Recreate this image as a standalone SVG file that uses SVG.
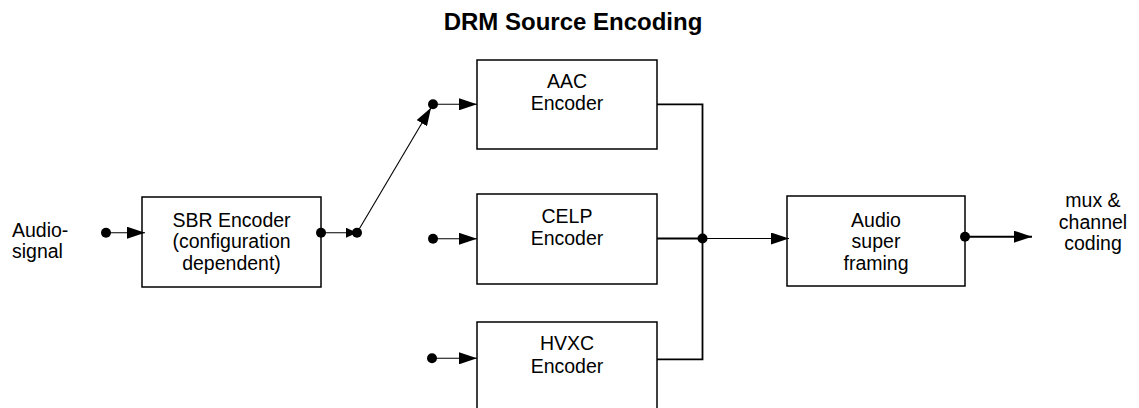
<svg xmlns="http://www.w3.org/2000/svg" width="1139" height="408" viewBox="0 0 1139 408">
<style>
text{font-family:"Liberation Sans",Arial,sans-serif;font-size:19.5px;fill:#000}
.c{text-anchor:middle}
.title{font-weight:bold;font-size:24px}
.box{fill:#fff;stroke:#000;stroke-width:1.5}
.thin{stroke:#000;stroke-width:1.1;fill:none}
.bus{stroke:#000;stroke-width:1.8;fill:none}
.out{stroke:#000;stroke-width:2;fill:none}
.dot{fill:#000}
</style>
<defs>
<marker id="arr" markerUnits="userSpaceOnUse" markerWidth="18" markerHeight="12" refX="18" refY="6" orient="auto">
<path d="M0,0 L18,6 L0,12 z" fill="#000"/>
</marker>
<marker id="arrS" markerUnits="userSpaceOnUse" markerWidth="11" markerHeight="10" refX="11" refY="5" orient="auto">
<path d="M0,0 L11,5 L0,10 z" fill="#000"/>
</marker>
</defs>
<text class="title c" x="573" y="30">DRM Source Encoding</text>
<g id="input-label">
<text x="12" y="236.7">Audio-</text>
<text x="12" y="258.3">signal</text>
</g>
<g id="sbr">
<rect class="box" x="142" y="197" width="179" height="90"/>
<text class="c" x="231.5" y="226.7">SBR Encoder</text>
<text class="c" x="231.5" y="248.3">(configuration</text>
<text class="c" x="231.5" y="270">dependent)</text>
</g>
<g id="aac">
<rect class="box" x="477" y="60" width="180" height="89"/>
<text class="c" x="567" y="88.3">AAC</text>
<text class="c" x="567" y="110">Encoder</text>
</g>
<g id="celp">
<rect class="box" x="477" y="194" width="180" height="90"/>
<text class="c" x="567" y="223.3">CELP</text>
<text class="c" x="567" y="245">Encoder</text>
</g>
<g id="hvxc">
<rect class="box" x="477" y="322" width="180" height="100"/>
<text class="c" x="567" y="350">HVXC</text>
<text class="c" x="567" y="372.7">Encoder</text>
</g>
<g id="asf">
<rect class="box" x="787" y="196" width="178" height="90"/>
<text class="c" x="876" y="226.7">Audio</text>
<text class="c" x="876" y="248.3">super</text>
<text class="c" x="876" y="270">framing</text>
</g>
<g id="output-label">
<text class="c" x="1093" y="207">mux &amp;</text>
<text class="c" x="1093" y="228.5">channel</text>
<text class="c" x="1093" y="250">coding</text>
</g>
<g id="connectors">
<line class="thin" x1="106" y1="232.7" x2="145" y2="232.7" marker-end="url(#arr)"/>
<line class="thin" x1="321" y1="232.7" x2="357" y2="232.7" marker-end="url(#arrS)"/>
<line class="thin" x1="357" y1="232.7" x2="431" y2="107.7" marker-end="url(#arr)"/>
<line class="thin" x1="433" y1="104.3" x2="477" y2="104.3" marker-end="url(#arr)"/>
<line class="thin" x1="433" y1="238.8" x2="477" y2="238.8" marker-end="url(#arr)"/>
<line class="thin" x1="432" y1="358.3" x2="477" y2="358.3" marker-end="url(#arr)"/>
<polyline class="bus" points="657,104.3 702.5,104.3 702.5,359.3 657,359.3"/>
<line class="bus" x1="657" y1="238.5" x2="702.5" y2="238.5"/>
<line class="thin" x1="702.5" y1="238.5" x2="789" y2="238.5" marker-end="url(#arr)"/>
<line class="out" x1="965" y1="236.7" x2="1032" y2="236.7" marker-end="url(#arr)"/>
<circle class="dot" cx="106" cy="232.7" r="5"/>
<circle class="dot" cx="321" cy="232.7" r="5"/>
<circle class="dot" cx="357" cy="232.7" r="5"/>
<circle class="dot" cx="433" cy="104.3" r="5"/>
<circle class="dot" cx="433" cy="238.8" r="5"/>
<circle class="dot" cx="432" cy="358.3" r="5"/>
<circle class="dot" cx="702.5" cy="238.5" r="5"/>
<circle class="dot" cx="965" cy="236.7" r="5"/>
</g>
</svg>
